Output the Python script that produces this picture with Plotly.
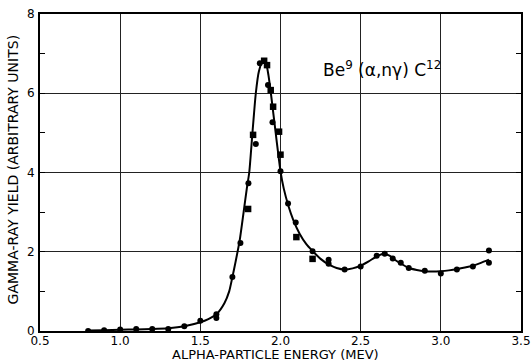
import plotly.graph_objects as go

# Fitted curve
curve_x = [0.8, 0.9, 1.0, 1.1, 1.2, 1.3, 1.4, 1.5, 1.55, 1.6, 1.65, 1.68, 1.70, 1.72, 1.746, 1.77, 1.79,
           1.805, 1.825, 1.846, 1.865, 1.89, 1.91, 1.925, 1.94, 1.955, 1.97, 1.985, 2.0, 2.02, 2.05,
           2.08, 2.12, 2.16, 2.2, 2.25, 2.3, 2.35, 2.4, 2.45, 2.5, 2.55, 2.6, 2.64, 2.68, 2.72, 2.76,
           2.8, 2.85, 2.9, 2.95, 3.0, 3.05, 3.1, 3.15, 3.2, 3.25, 3.3]
curve_y = [0.01, 0.02, 0.03, 0.04, 0.05, 0.07, 0.12, 0.22, 0.3, 0.42, 0.7, 1.0, 1.36, 1.75, 2.3, 3.0, 3.6,
           4.0, 5.0, 6.0, 6.55, 6.82, 6.75, 6.45, 6.0, 5.5, 5.0, 4.5, 4.03, 3.6, 3.15,
           2.8, 2.45, 2.2, 2.02, 1.82, 1.68, 1.59, 1.55, 1.58, 1.65, 1.76, 1.88, 1.95, 1.9, 1.78, 1.68,
           1.59, 1.54, 1.51, 1.5, 1.51, 1.53, 1.56, 1.6, 1.65, 1.72, 1.8]

# Circle data points
circ_x = [0.8, 0.9, 1.0, 1.1, 1.2, 1.3, 1.4, 1.5, 1.6, 1.6, 1.7, 1.75, 1.80, 1.846, 1.871, 1.922, 1.95,
          2.0, 2.047, 2.095, 2.2, 2.3, 2.3, 2.4, 2.5, 2.6, 2.65, 2.7, 2.75, 2.8, 2.9, 3.0, 3.1, 3.2, 3.3, 3.3]
circ_y = [0.0, 0.02, 0.04, 0.05, 0.05, 0.05, 0.12, 0.26, 0.42, 0.33, 1.36, 2.22, 3.73, 4.72, 6.76, 6.21, 5.27,
          4.03, 3.22, 2.74, 2.01, 1.80, 1.70, 1.55, 1.63, 1.90, 1.95, 1.83, 1.72, 1.59, 1.52, 1.45, 1.55, 1.63, 2.03, 1.72]

# Square data points
sq_x = [1.798, 1.829, 1.898, 1.916, 1.939, 1.954, 1.991, 2.0, 2.099, 2.2]
sq_y = [3.08, 4.95, 6.82, 6.71, 6.08, 5.66, 5.03, 4.45, 2.37, 1.82]

x_ticks = [0.5, 1.0, 1.5, 2.0, 2.5, 3.0, 3.5]
y_ticks = [0, 2, 4, 6, 8]

x_title = "ALPHA-PARTICLE ENERGY (MEV)"
y_title = "GAMMA-RAY YIELD (ARBITRARY UNITS)"
label = "Be<sup>9</sup> (α,nγ) C<sup>12</sup>"

FONT = "DejaVu Sans"

fig = go.Figure()
fig.add_trace(go.Scatter(x=curve_x, y=curve_y, mode="lines",
                         line=dict(color="black", width=2, shape="spline", smoothing=0.6),
                         hoverinfo="skip", showlegend=False))
fig.add_trace(go.Scatter(x=circ_x, y=circ_y, mode="markers",
                         marker=dict(symbol="circle", size=6, color="black"), showlegend=False))
fig.add_trace(go.Scatter(x=sq_x, y=sq_y, mode="markers",
                         marker=dict(symbol="square", size=6.5, color="black"), showlegend=False))

fig.add_annotation(x=2.63, y=6.6, xref="x", yref="y", showarrow=False, text=label,
                   font=dict(family=FONT, size=17, color="black"))
fig.add_annotation(x=0.49, y=-0.073, xref="paper", yref="paper", showarrow=False,
                   xanchor="center", yanchor="middle", text=x_title,
                   font=dict(family=FONT, size=13, color="black"))
fig.add_annotation(x=-0.056, y=0.51, xref="paper", yref="paper", showarrow=False,
                   xanchor="center", yanchor="middle", textangle=-90, text=y_title,
                   font=dict(family=FONT, size=14, color="black"))

fig.update_xaxes(range=[0.5, 3.5], tickvals=x_ticks, ticktext=[f"{v:.1f}" for v in x_ticks],
                 showgrid=True, gridcolor="#222", gridwidth=1,
                 showline=True, linecolor="black", linewidth=2, mirror=True,
                 ticks="", zeroline=False, automargin=False, ticklabeloverflow="allow",
                 ticklabelstandoff=-2,
                 tickfont=dict(family=FONT, size=12, color="black"))
fig.update_yaxes(range=[0, 8], tickvals=y_ticks,
                 showgrid=True, gridcolor="#222", gridwidth=1,
                 showline=True, linecolor="black", linewidth=2, mirror="ticks",
                 ticks="inside", ticklen=5, tickcolor="black", zeroline=False, automargin=False,
                 ticklabeloverflow="allow", ticklabelstandoff=1,
                 minor=dict(dtick=1, ticks="inside", ticklen=5, tickcolor="black", showgrid=False),
                 tickfont=dict(family=FONT, size=12, color="black"))

fig.update_layout(width=531, height=362, margin=dict(l=40, r=10, t=14, b=31),
                  plot_bgcolor="white", paper_bgcolor="white", hovermode=False)

# Remove the default 8px page margin so the figure sits at the window's top-left corner.
fig.write_html("out.html", config={"displayModeBar": False},
               post_script="document.body.style.margin='0';")
